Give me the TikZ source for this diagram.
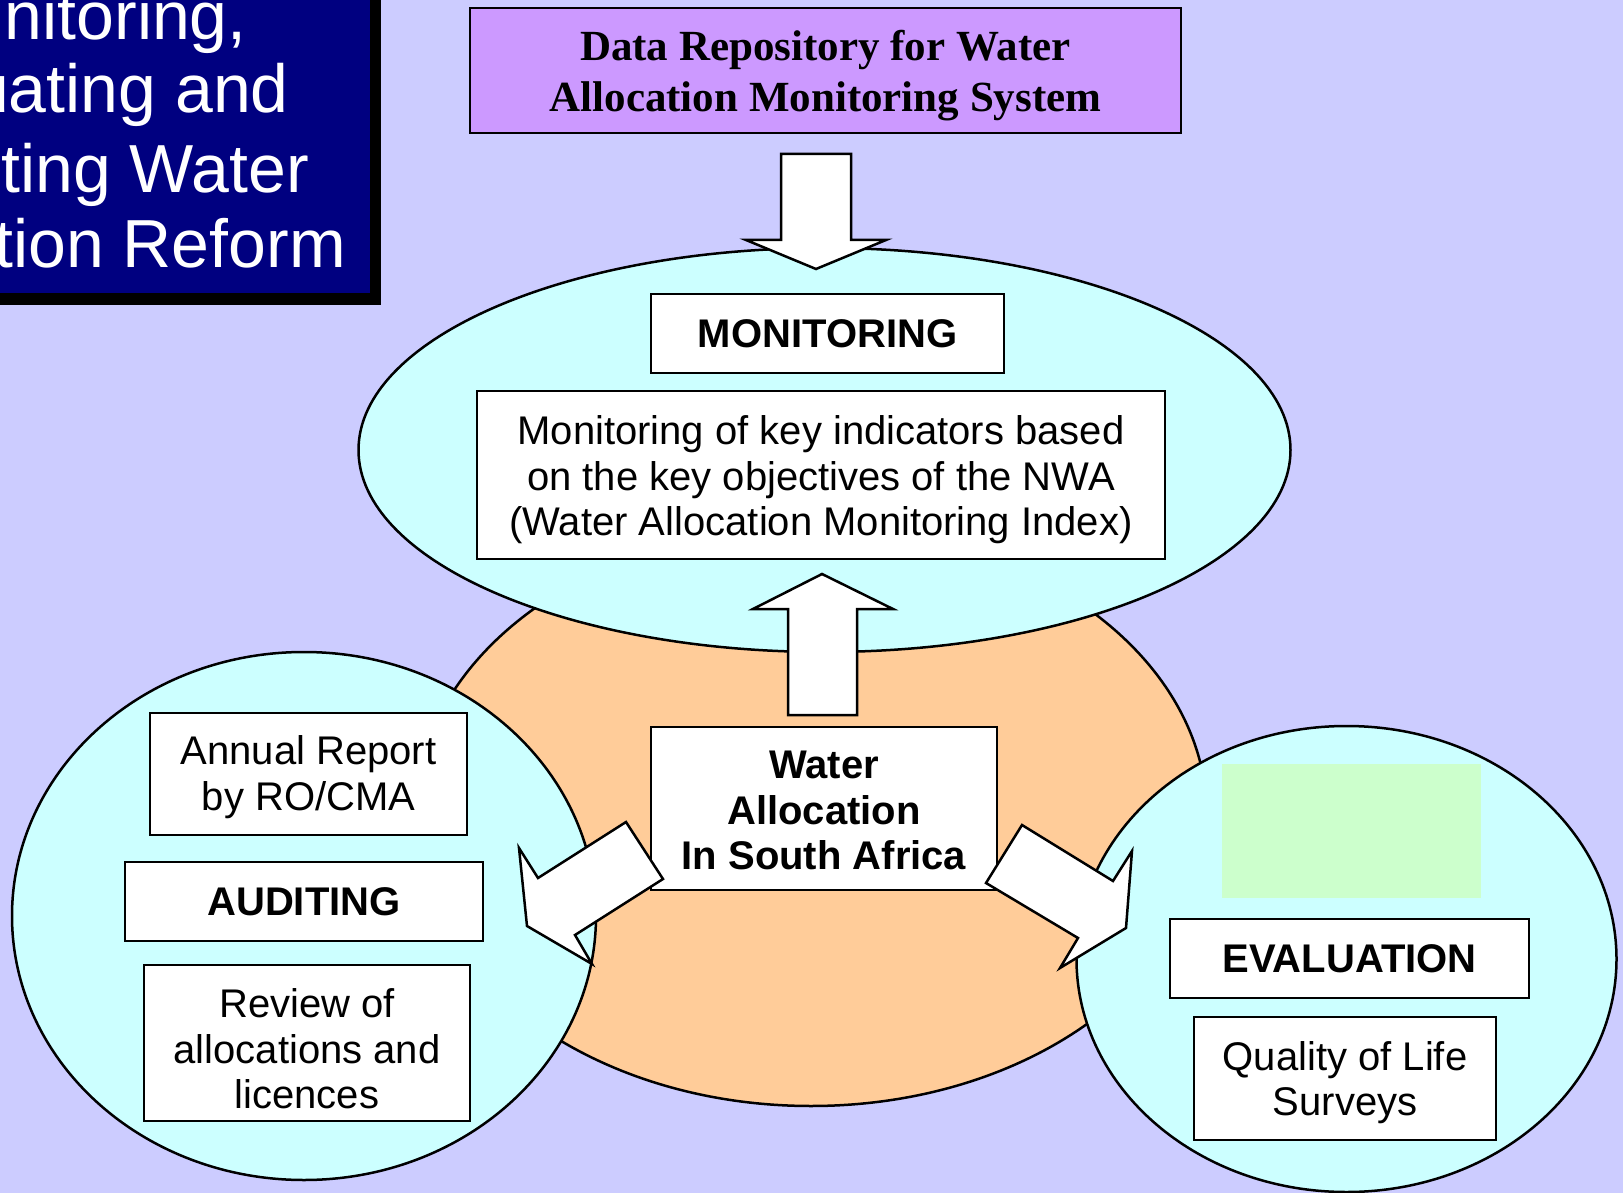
\documentclass[tikz,border=0pt]{standalone}
\usepackage{fontspec}
\setmainfont{Liberation Sans}
\newfontfamily\reposerif{Liberation Serif}
\definecolor{bgc}{HTML}{CCCCFF}
\definecolor{orangec}{HTML}{FFCC99}
\definecolor{cyanc}{HTML}{CCFFFF}
\definecolor{purplec}{HTML}{CC99FF}
\definecolor{greenc}{HTML}{CCFFCC}
\definecolor{navyc}{HTML}{000080}
\begin{document}
\begin{tikzpicture}[x=1pt,y=-1pt,line width=2.5pt,
  frame/.style={draw=black,fill=white,line width=2.5pt,inner sep=0pt},
  txt/.style={inner sep=0pt,align=center,font=\fontsize{40}{45.5}\selectfont},
  boldtxt/.style={txt,font=\bfseries\fontsize{40}{45.5}\selectfont},
  blob/.style={draw=black,line width=2.5pt},
  blockarrow/.style={draw=black,fill=white,line width=2.5pt,line join=miter},
  titletext/.style={text=white,inner sep=0pt,font=\fontsize{68}{76}\selectfont}]
\useasboundingbox (0,0) rectangle (1623,1193);
\fill[bgc] (0,0) rectangle (1623,1193);

% title box (cut by the page edge)
\fill[black] (-20,-20) rectangle (381,305);
\fill[navyc] (-20,-20) rectangle (370,293);
\begin{scope}
\clip (0,0) rectangle (370,293);
\node[titletext,anchor=base east] (t1) at (248,40) {nitoring,};
\node[titletext,anchor=base east] (t2) at (290,113) {uating and};
\node[titletext,anchor=base east] (t3) at (310,193) {ting Water};
\node[titletext,anchor=base east] (t4) at (347,268) {tion Reform};
\end{scope}

% data repository
\node[frame,fill=purplec,minimum width=711pt,minimum height=125pt] (repo) at (825.5,70.5) {};
\node[txt,font=\reposerif\bfseries\fontsize{43}{50.7}\selectfont] (repoT)
  at ([yshift=-5pt]repo.center) {Data Repository for Water\\Allocation Monitoring System};

% ellipses
\draw[blob,fill=orangec] (811,816) ellipse [x radius=396pt,y radius=290pt];
\draw[blob,fill=cyanc] (304,916) ellipse [x radius=292pt,y radius=264pt];
\draw[blob,fill=cyanc] (1346.5,959) ellipse [x radius=270pt,y radius=233pt];
\draw[blob,fill=cyanc] (824.5,450) ellipse [x radius=466pt,y radius=202pt];

% green patch
\fill[greenc] (1222,764) rectangle (1481,898);

% down arrow from repository
\draw[blockarrow] (781,154) -- (851,154) -- (851,240) -- (886,240) -- (816,269)
  -- (746,240) -- (781,240) -- cycle;

% boxes
\node[frame,minimum width=353pt,minimum height=79pt] (mon) at (827.5,333.5) {};
\node[boldtxt] (monT) at (mon.center) {MONITORING};
\node[frame,minimum width=688pt,minimum height=168pt] (montext) at (821,475) {};
\node[txt] (montextT) at ([yshift=-5pt]montext.center)
  {Monitoring of key indicators based\\on the key objectives of the NWA\\(Water Allocation Monitoring Index)};
\node[frame,minimum width=346pt,minimum height=163pt] (water) at (824,808.5) {};
\node[boldtxt] (waterT) at ([yshift=-2pt]water.center) {Water\\Allocation\\In South Africa};
\node[frame,minimum width=317pt,minimum height=122pt] (annual) at (308.5,774) {};
\node[txt] (annualT) at ([yshift=-3pt]annual.center) {Annual Report\\by RO/CMA};
\node[frame,minimum width=358pt,minimum height=79pt] (aud) at (304,901.5) {};
\node[boldtxt] (audT) at (aud.center) {AUDITING};
\node[frame,minimum width=326pt,minimum height=156pt] (review) at (307,1043) {};
\node[txt] (reviewT) at ([yshift=-6pt]review.center) {Review of\\allocations and\\licences};
\node[frame,minimum width=359pt,minimum height=79pt] (eval) at (1349.5,958.5) {};
\node[boldtxt] (evalT) at (eval.center) {EVALUATION};
\node[frame,minimum width=302pt,minimum height=123pt] (qual) at (1345,1078.5) {};
\node[txt] (qualT) at ([yshift=-4pt]qual.center) {Quality of Life\\Surveys};

% up arrow
\draw[blockarrow] (788,715) -- (857,715) -- (857,609) -- (893,609) -- (822,574)
  -- (753,609) -- (788,609) -- cycle;
% left arrow
\draw[blockarrow] (626,822) -- (663,879) -- (575,935) -- (592,964) -- (527,926)
  -- (519,848) -- (538,878) -- cycle;
% right arrow
\draw[blockarrow] (1022,825) -- (1113,881) -- (1132,851) -- (1126,928) -- (1060,968)
  -- (1078,938) -- (986,883) -- cycle;
\end{tikzpicture}
\end{document}
